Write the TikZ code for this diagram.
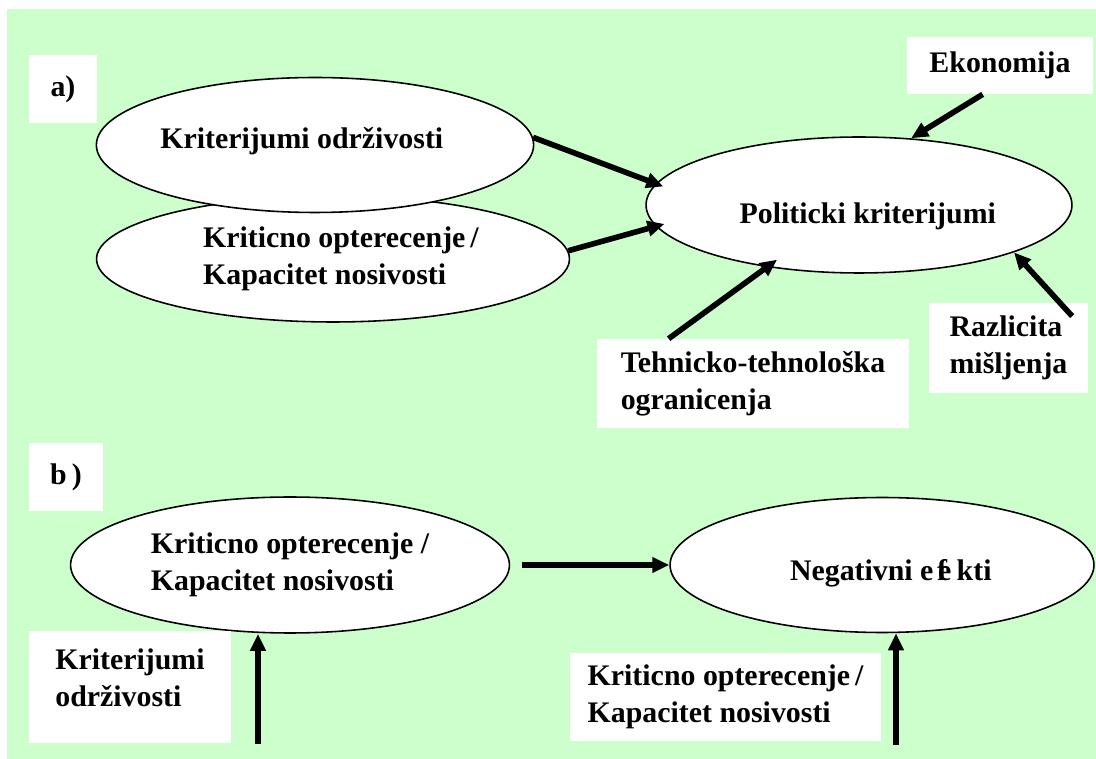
\documentclass[tikz,border=0pt]{standalone}
\usepackage{fontspec}
\setmainfont{Liberation Serif}
\usepackage{tikz}
\usetikzlibrary{arrows.meta,shapes.geometric}
\definecolor{bggreen}{HTML}{CCFFCC}

\begin{document}
\begin{tikzpicture}[x=0.02cm, y=-0.02cm,
	txt/.style={font=\fontsize{17}{21}\selectfont\bfseries, align=left, inner sep=0pt},
	oval/.style={txt, ellipse, draw=black, line width=0.9pt, fill=white},
	wbox/.style={txt, rectangle, fill=white},
	arr/.style={line width=3.2pt, -{Triangle[length=0.34cm,width=0.3cm]}}]
	\useasboundingbox (0,0) rectangle (1096,759);
	\fill[white] (0,0) rectangle (1096,759);
	\fill[bggreen] (7,9) rectangle (1096,759);
	% a)
	\node [wbox, minimum width=1.36cm, minimum height=1.36cm] (a) at (63,89) {a)};
	\node [oval, minimum width=9.46cm, minimum height=2.52cm] (k2) at (333,259) {\hspace*{9pt}Kriticno opterecenje\,/\\\hspace*{9pt}Kapacitet nosivosti};
	\node [oval, minimum width=8.74cm, minimum height=2.70cm] (k1) at (315,145) {\raisebox{4pt}[\height][0pt]{Kriterijumi održivosti}\hspace*{15pt}};
	\node [oval, minimum width=8.52cm, minimum height=2.72cm] (pk) at (859,205) {\hspace*{10pt}\raisebox{-4.5pt}[\height][0pt]{Politicki kriterijumi}};
	\node [wbox, minimum width=3.72cm, minimum height=1.14cm] (eko) at (1000,65.5) {Ekonomija};
	\node [wbox, minimum width=6.24cm, minimum height=1.78cm] (teh) at (753,383.5) {Tehnicko-tehnološka\\ogranicenja};
	\node [wbox, minimum width=3.18cm, minimum height=1.80cm] (raz) at (1008.5,348) {Razlicita\\mišljenja};
	\draw[arr, shorten >=-0.16cm] (k1.2) -- (pk.174);
	\draw[arr, shorten >=-0.18cm] (k2.2) -- (pk.186);
	\draw[arr] (eko.239) -- (pk.52);
	\draw[arr, shorten >=-0.25cm] (teh.152) -- (pk.214);
	\draw[arr, shorten <=0.48cm] (raz.10) -- (pk.343);
	% b)
	\node [wbox, minimum width=1.48cm, minimum height=1.36cm] (b) at (66,477) {b\,)};
	\node [oval, minimum width=8.78cm, minimum height=2.72cm] (b1) at (290,565) {Kriticno opterecenje /\\Kapacitet nosivosti};
	\node [oval, minimum width=8.48cm, minimum height=2.70cm] (neg) at (882,565) {\hspace*{10pt}\raisebox{-3pt}[\height][0pt]{Negativni e\kern.12em f\kern-.3em e\kern.18em kti}};
	\node [wbox, minimum width=4.04cm, minimum height=2.24cm] (ko) at (130,687) {Kriterijumi\\održivosti\rule[-11pt]{0pt}{0pt}};
	\node [wbox, minimum width=6.22cm, minimum height=1.76cm] (kk) at (725.5,697) {Kriticno opterecenje\,/\\Kapacitet nosivosti};
	\coordinate (c1) at (258,744);
	\coordinate (c2) at (896,745);
	\draw[arr, shorten <=0.24cm] (b1.east) -- (neg.west);
	\draw[arr] (c1) -- (c1 |- b1.south);
	\draw[arr] (c2) -- (c2 |- neg.south);
\end{tikzpicture}
\end{document}
